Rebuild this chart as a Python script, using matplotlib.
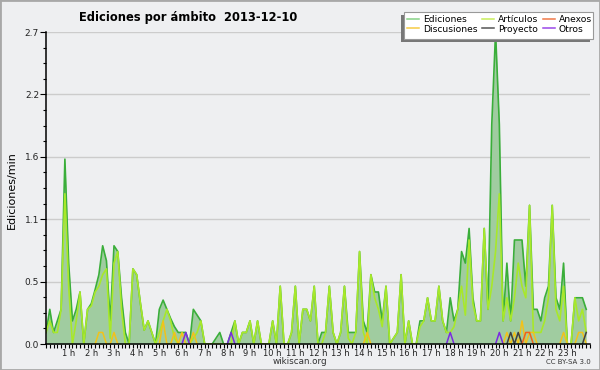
import numpy as np
import matplotlib.pyplot as plt
from matplotlib.patches import Rectangle
from matplotlib.lines import Line2D
from matplotlib.ticker import FixedLocator, MultipleLocator

# ediciones por minuto, bins de 10 minutos (144 por dia)
ediciones = [
    0.1, 0.3, 0.1, 0.2, 0.3, 1.6, 0.7, 0.2, 0.3, 0.45, 0.0, 0.3,
    0.35, 0.47, 0.6, 0.85, 0.72, 0.2, 0.85, 0.8, 0.4, 0.1, 0.0, 0.65,
    0.6, 0.35, 0.12, 0.2, 0.1, 0.0, 0.3, 0.38, 0.3, 0.22, 0.15, 0.1,
    0.1, 0.1, 0.0, 0.3, 0.25, 0.2, 0.0, 0.0, 0.0, 0.05, 0.1, 0.0,
    0.0, 0.1, 0.2, 0.0, 0.1, 0.1, 0.2, 0.0, 0.2, 0.0, 0.0, 0.0,
    0.2, 0.0, 0.5, 0.0, 0.0, 0.1, 0.5, 0.0, 0.3, 0.3, 0.2, 0.5,
    0.0, 0.1, 0.1, 0.5, 0.1, 0.0, 0.1, 0.5, 0.1, 0.1, 0.1, 0.8,
    0.2, 0.1, 0.6, 0.45, 0.45, 0.2, 0.5, 0.0, 0.05, 0.1, 0.6, 0.0,
    0.2, 0.0, 0.0, 0.2, 0.2, 0.4, 0.2, 0.2, 0.5, 0.2, 0.1, 0.4,
    0.2, 0.3, 0.8, 0.7, 1.0, 0.4, 0.2, 0.2, 1.0, 0.3, 1.9, 2.7,
    1.9, 0.2, 0.7, 0.2, 0.9, 0.9, 0.9, 0.5, 1.2, 0.3, 0.3, 0.2,
    0.4, 0.5, 1.2, 0.4, 0.3, 0.7, 0.0, 0.0, 0.4, 0.4, 0.4, 0.3,
]
articulos = [
    0.1, 0.2, 0.1, 0.1, 0.3, 1.3, 0.5, 0.0, 0.2, 0.45, 0.0, 0.3,
    0.33, 0.45, 0.5, 0.6, 0.65, 0.05, 0.7, 0.8, 0.3, 0.0, 0.0, 0.65,
    0.6, 0.35, 0.12, 0.2, 0.1, 0.0, 0.1, 0.2, 0.3, 0.2, 0.05, 0.0,
    0.0, 0.0, 0.0, 0.05, 0.1, 0.2, 0.0, 0.0, 0.0, 0.0, 0.0, 0.0,
    0.0, 0.0, 0.2, 0.0, 0.1, 0.1, 0.2, 0.0, 0.2, 0.0, 0.0, 0.0,
    0.2, 0.0, 0.5, 0.0, 0.0, 0.1, 0.5, 0.0, 0.3, 0.3, 0.2, 0.5,
    0.0, 0.0, 0.1, 0.5, 0.1, 0.0, 0.1, 0.5, 0.05, 0.0, 0.1, 0.8,
    0.1, 0.0, 0.6, 0.4, 0.3, 0.15, 0.5, 0.0, 0.05, 0.1, 0.6, 0.0,
    0.2, 0.0, 0.0, 0.15, 0.2, 0.4, 0.2, 0.2, 0.5, 0.2, 0.1, 0.1,
    0.15, 0.3, 0.5, 0.25, 0.9, 0.35, 0.2, 0.2, 1.0, 0.3, 0.5, 0.8,
    1.3, 0.2, 0.4, 0.2, 0.4, 0.7, 0.5, 0.4, 1.2, 0.1, 0.1, 0.1,
    0.2, 0.4, 1.2, 0.3, 0.2, 0.5, 0.0, 0.0, 0.4, 0.2, 0.3, 0.1,
]
# series pequenas: indice del bin y valor
disc_idx = [14, 15, 18, 31, 34, 36, 39, 85, 122, 124, 126, 128, 129, 137, 141, 142]
disc_val = [0.1, 0.1, 0.1, 0.2, 0.1, 0.1, 0.1, 0.1, 0.1, 0.1, 0.2, 0.1, 0.1, 0.1, 0.1, 0.1]
proy_idx = [123, 125, 143]
proy_val = [0.1, 0.1, 0.1]
anex_idx = [127, 128]
anex_val = [0.1, 0.1]
otros_idx = [37, 49, 107, 120]
otros_val = [0.1, 0.1, 0.1, 0.1]

hours = list(range(1, 24))
ytick_labels = ['0.0', '0.5', '1.1', '1.6', '2.2', '2.7']
legend_labels = ['Ediciones', 'Discusiones', 'Artículos', 'Proyecto', 'Anexos', 'Otros']

bg = '#eeeff1'
W, H = 600, 370


def fx(px):
    return px / W


def fy(py):
    return 1 - py / H


def sparse(idx, val):
    s = np.zeros(144)
    s[idx] = val
    # ocultar tramos que quedan pegados al eje
    keep = (s > 0) | (np.roll(s, 1) > 0) | (np.roll(s, -1) > 0)
    return np.ma.masked_where(~keep, s)


x = np.arange(144)

fig = plt.figure(figsize=(6, 3.7), dpi=100, facecolor=bg)
ax = fig.add_axes([fx(46), fy(344), fx(544), 312 / H])
ax.set_facecolor(bg)

ax.fill_between(x, 0, ediciones, color='#a0cca0', lw=0, zorder=1)
ax.plot(x, ediciones, color='#3aae3a', lw=1.2, zorder=2)
ax.plot(x, articulos, color='#a8e82a', lw=1.2, zorder=3)
ax.plot(x, sparse(disc_idx, disc_val), color='#f2c21a', lw=1.1, zorder=4)
ax.plot(x, sparse(proy_idx, proy_val), color='#404040', lw=1.1, zorder=4)
ax.plot(x, sparse(anex_idx, anex_val), color='#f0601e', lw=1.1, zorder=4)
ax.plot(x, sparse(otros_idx, otros_val), color='#7a2be0', lw=1.1, zorder=4)

ax.set_xlim(0, 144)
ax.set_ylim(0, 2.7)

yt = np.linspace(0, 2.7, 6)
ax.yaxis.set_major_locator(FixedLocator(yt))
ax.set_yticklabels(ytick_labels)
ax.yaxis.set_minor_locator(FixedLocator(np.arange(0, 2.70001, 2.7 / 20)))
ax.xaxis.set_major_locator(FixedLocator([h * 6 for h in hours]))
ax.set_xticklabels(['%d h' % h for h in hours])
ax.xaxis.set_minor_locator(MultipleLocator(1))

ax.tick_params(axis='x', which='both', length=2.8, width=0.8, labelsize=6, pad=0.5, colors='black')
ax.tick_params(axis='x', labelcolor='#222222')
ax.tick_params(axis='y', which='major', length=4, width=0.8, labelsize=6.5, pad=1, labelcolor='#222222')
ax.tick_params(axis='y', which='minor', length=2.5, width=0.8)

ax.grid(axis='y', which='major', color='#cccccc', lw=1)
ax.set_axisbelow(True)
for s in ['top', 'right']:
    ax.spines[s].set_visible(False)
for s in ['left', 'bottom']:
    ax.spines[s].set_linewidth(1.1)
    ax.spines[s].set_zorder(5)

fig.text(fx(188), fy(17), 'Ediciones por ámbito  2013-12-10', ha='center', va='center',
         fontsize=8.3, fontweight='bold')
fig.text(fx(12), fy(190), 'Ediciones/min', rotation=90, ha='center', va='center', fontsize=8)
fig.text(fx(300), fy(362), 'wikiscan.org', ha='center', va='center', fontsize=6.3, color='#333333')
fig.text(fx(568), fy(362), 'CC BY-SA 3.0', ha='center', va='center', fontsize=5, color='#333333')

# caja de leyenda con sombra hacia abajo-izquierda
fig.add_artist(Rectangle((fx(401), fy(41.5)), fx(189), 26.5 / H, transform=fig.transFigure,
                         facecolor='#777777', edgecolor='none', zorder=8))
fig.add_artist(Rectangle((fx(404), fy(38.5)), fx(189), 26.5 / H, transform=fig.transFigure,
                         facecolor='white', edgecolor='#999999', lw=0.8, zorder=9))
leg_colors = ['#86d286', '#f6cc44', '#c8ee5a', '#555555', '#f07848', '#9a48e8']
handles = [Line2D([], [], color=c, lw=1.1) for c in leg_colors]
leg = fig.legend(handles, legend_labels, ncol=3, loc='upper left',
                 bbox_to_anchor=(fx(405), fy(12.5)), frameon=False, fontsize=6.6,
                 handlelength=1.3, handletextpad=0.4, columnspacing=0.55,
                 labelspacing=0.08, borderpad=0.25, borderaxespad=0)
leg.set_zorder(10)

fig.add_artist(Rectangle((0, 0), 1, 1, transform=fig.transFigure, fill=False,
                         edgecolor='#a8a8a8', lw=2, zorder=20))

fig.savefig('out.png', dpi=100, facecolor=bg)
